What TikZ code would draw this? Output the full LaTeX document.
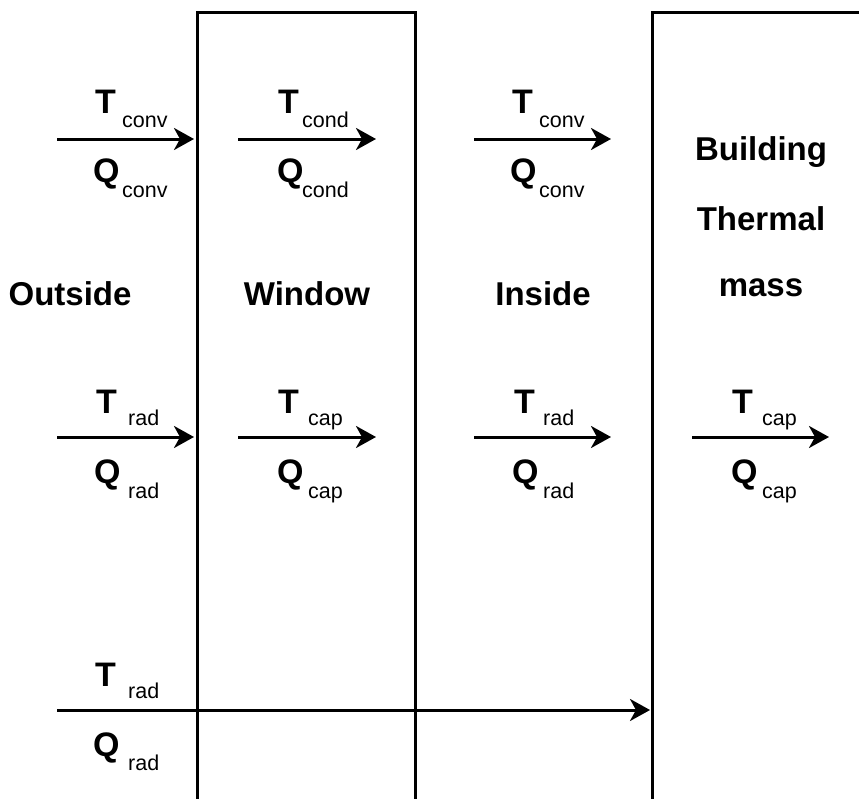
\documentclass[tikz,border=0pt]{standalone}
\usepackage{fontspec}
\setmainfont{Liberation Sans}
\usetikzlibrary{arrows.meta}
\tikzset{
  zone/.style={draw=black, line width=3pt},
  flow/.style={line width=3pt, -{Stealth[length=20pt,width=22pt,inset=6pt]}},
  big/.style={inner sep=0pt, anchor=base west, font=\fontsize{34}{40}\selectfont\bfseries},
  sub/.style={inner sep=0pt, anchor=base west, font=\fontsize{21.5}{26}\selectfont},
  title/.style={inner sep=0pt, anchor=base, font=\fontsize{33}{40}\selectfont\bfseries},
}
\begin{document}
\begin{tikzpicture}[x=1pt, y=-1pt]
\useasboundingbox (0,0) rectangle (859,798);

% the two layers: window pane and building mass
\draw[zone] (197.5,12) rectangle (415.5,810);
\draw[zone] (652,12) rectangle (880,810);

% zone names
\node[title] (outside) at (70,305) {Outside};
\node[title] (window) at (307,305) {Window};
\node[title] (inside) at (543,305) {Inside};
\node[title] (bld1) at (761,160) {Building};
\node[title] (bld2) at (761,230) {Thermal};
\node[title] (bld3) at (761,296) {mass};

% arrow end points
\coordinate (r1c1s) at (57,139);  \coordinate (r1c1e) at (194,139);
\coordinate (r1c2s) at (238,139); \coordinate (r1c2e) at (376,139);
\coordinate (r1c3s) at (474,139); \coordinate (r1c3e) at (611,139);
\coordinate (r2c1s) at (57,437);  \coordinate (r2c1e) at (194,437);
\coordinate (r2c2s) at (238,437); \coordinate (r2c2e) at (376,437);
\coordinate (r2c3s) at (474,437); \coordinate (r2c3e) at (611,437);
\coordinate (r2c4s) at (692,437); \coordinate (r2c4e) at (829,437);
\coordinate (r3s) at (57,710);    \coordinate (r3e) at (650,710);

\foreach \a in {r1c1,r1c2,r1c3,r2c1,r2c2,r2c3,r2c4}
  \draw[flow] (\a s) -- (\a e);
\draw[flow] (r3s) -- (r3e);

% row 1: convection / conduction
\node[big] (t11) at (95,113) {T};  \node[sub] (t11s) at (122,127) {conv};
\node[big] (q11) at (93,182) {Q};  \node[sub] (q11s) at (122,197) {conv};
\node[big] (t12) at (278,113) {T}; \node[sub] (t12s) at (302,127) {cond};
\node[big] (q12) at (277,182) {Q}; \node[sub] (q12s) at (302,197) {cond};
\node[big] (t13) at (512,113) {T}; \node[sub] (t13s) at (539,127) {conv};
\node[big] (q13) at (510,182) {Q}; \node[sub] (q13s) at (539,197) {conv};

% row 2: radiation / capacity
\node[big] (t21) at (96,413) {T};  \node[sub] (t21s) at (128,425) {rad};
\node[big] (q21) at (94,483) {Q};  \node[sub] (q21s) at (128,498) {rad};
\node[big] (t22) at (278,413) {T}; \node[sub] (t22s) at (308,425) {cap};
\node[big] (q22) at (277,483) {Q}; \node[sub] (q22s) at (308,498) {cap};
\node[big] (t23) at (514,413) {T}; \node[sub] (t23s) at (543,425) {rad};
\node[big] (q23) at (512,483) {Q}; \node[sub] (q23s) at (543,498) {rad};
\node[big] (t24) at (732,413) {T}; \node[sub] (t24s) at (762,425) {cap};
\node[big] (q24) at (731,483) {Q}; \node[sub] (q24s) at (762,498) {cap};

% row 3: radiation straight through to the mass
\node[big] (t31) at (95,686) {T};  \node[sub] (t31s) at (128,698) {rad};
\node[big] (q31) at (93,756) {Q};  \node[sub] (q31s) at (128,770) {rad};
\end{tikzpicture}
\end{document}
